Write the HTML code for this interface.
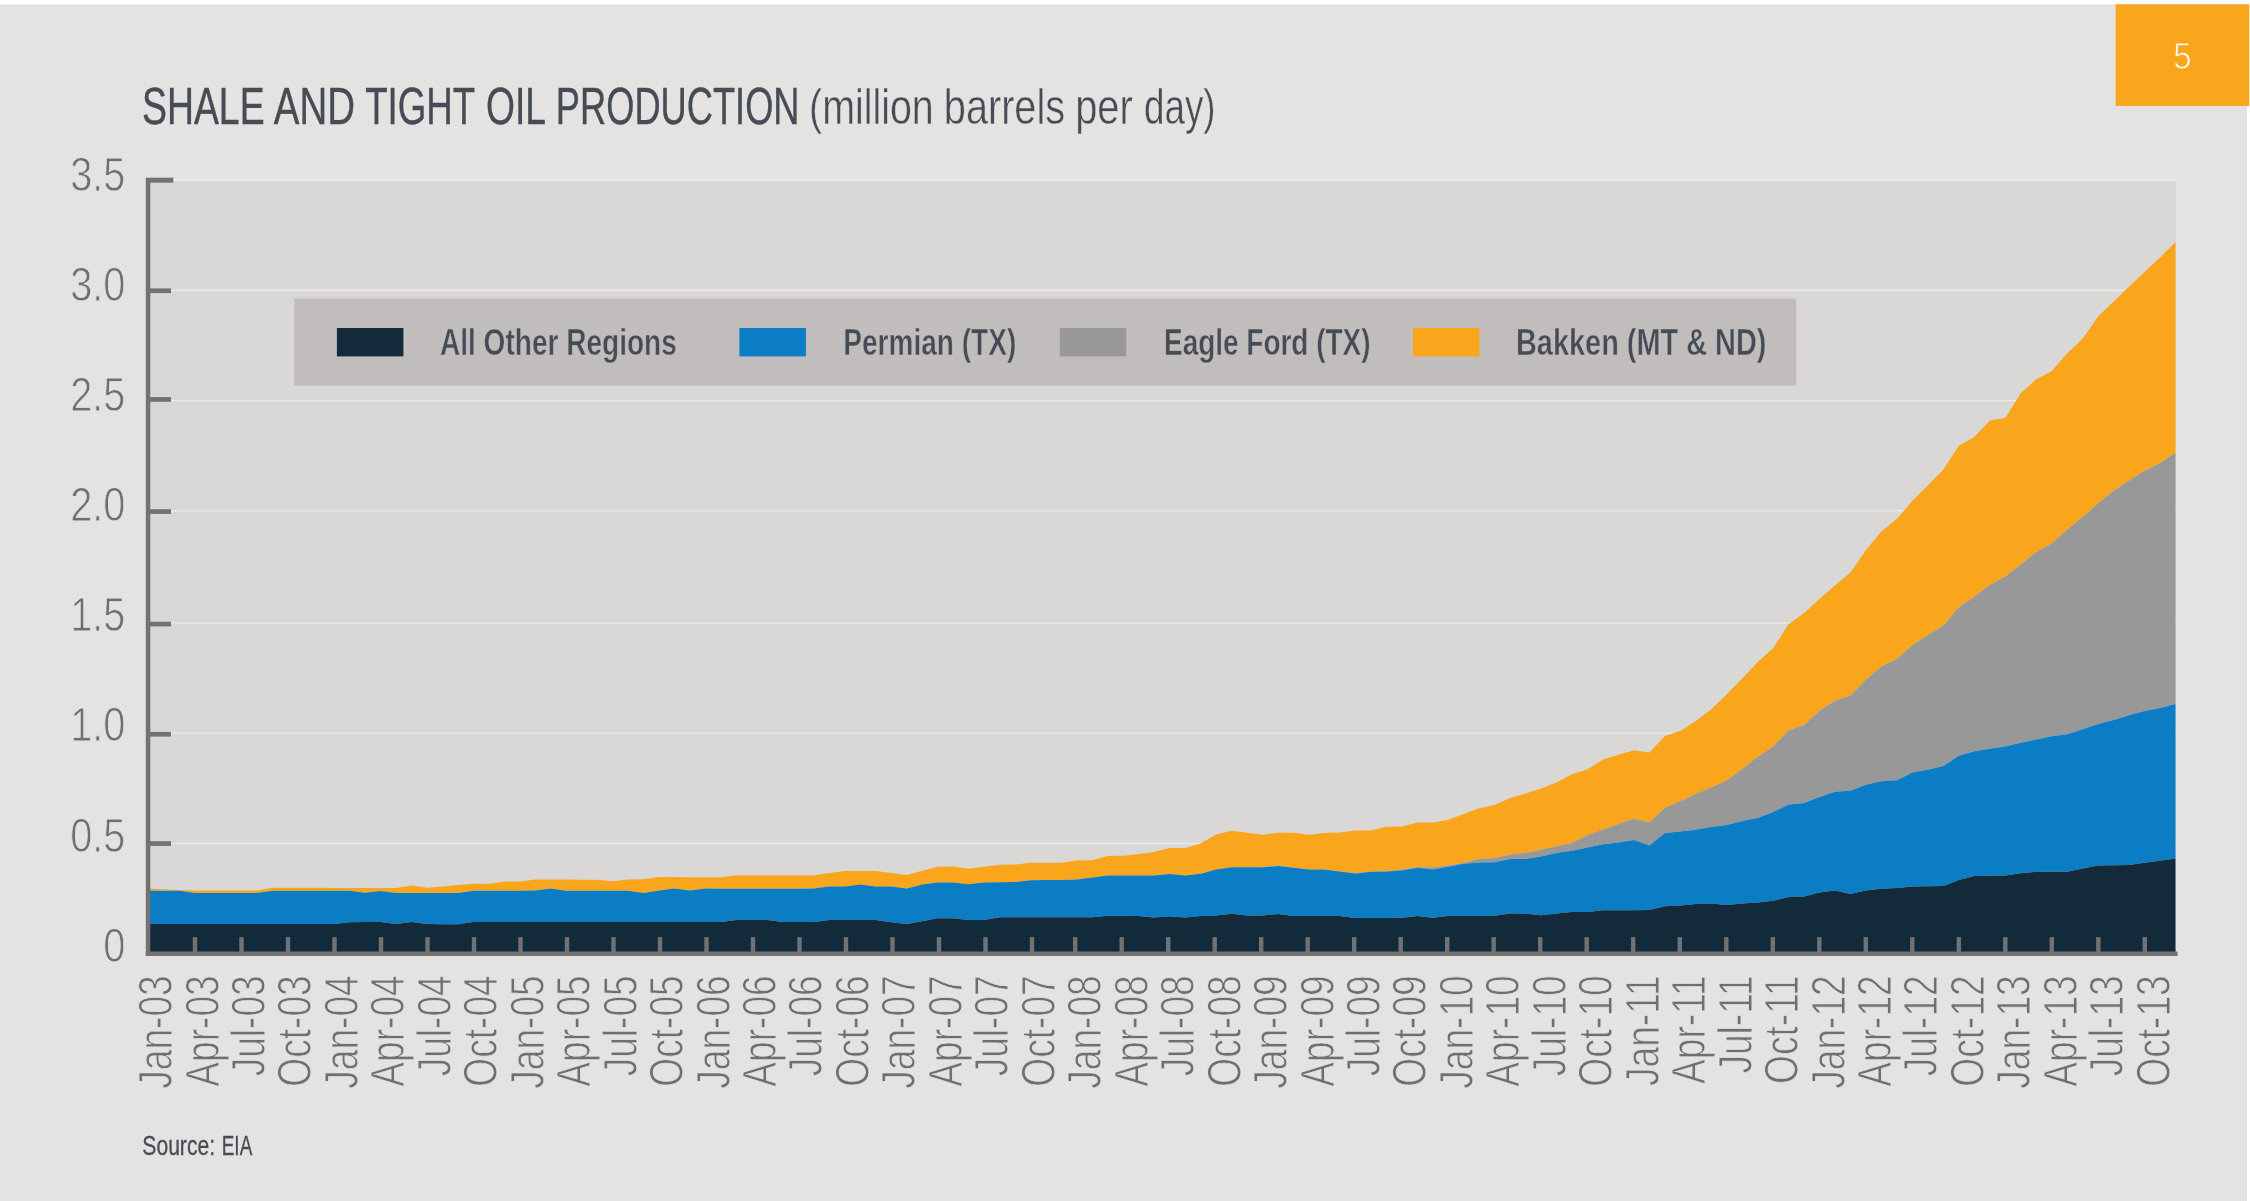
<!DOCTYPE html>
<html lang="en"><head><meta charset="utf-8"><title>Shale and Tight Oil Production</title>
<style>html,body{margin:0;padding:0;background:#fff;}svg{display:block;font-family:"Liberation Sans", sans-serif;will-change:transform;transform:translateZ(0);}</style></head><body>
<svg width="2250" height="1201" viewBox="0 0 2250 1201">
<rect x="0" y="0" width="2250" height="1201" fill="#ffffff"/>
<rect x="0" y="4.3" width="2247" height="1197" fill="#e4e3e1"/>
<rect x="2115.6" y="4.3" width="133.7" height="101.7" fill="#f9a61d"/>
<text transform="translate(2182.4,68.8) scale(0.9,1)" font-size="37.4" font-weight="400" fill="#ffffff" text-anchor="middle" stroke="#f9a61d" stroke-width="1.0">5</text>
<text transform="translate(0,124.05) scale(0.73,1)" font-size="50.9" font-weight="400" fill="#464c56" stroke="#464c56" stroke-width="0.4"><tspan x="194.61" textLength="167.81" lengthAdjust="spacingAndGlyphs">SHALE</tspan> <tspan x="375.08" textLength="111.15" lengthAdjust="spacingAndGlyphs">AND</tspan> <tspan x="500.27" textLength="150.72" lengthAdjust="spacingAndGlyphs">TIGHT</tspan> <tspan x="665.71" textLength="82.23" lengthAdjust="spacingAndGlyphs">OIL</tspan> <tspan x="761.47" textLength="333.76" lengthAdjust="spacingAndGlyphs">PRODUCTION</tspan></text>
<text transform="translate(0,124.0) scale(0.78,1)" font-size="50.3" font-weight="400" fill="#464c56" stroke="#e4e3e1" stroke-width="0.5"><tspan x="1037.25" textLength="159.77" lengthAdjust="spacingAndGlyphs">(million</tspan> <tspan x="1210.05" textLength="155.43" lengthAdjust="spacingAndGlyphs">barrels</tspan> <tspan x="1378.50" textLength="73.74" lengthAdjust="spacingAndGlyphs">per</tspan> <tspan x="1466.58" textLength="91.83" lengthAdjust="spacingAndGlyphs">day)</tspan></text>
<rect x="148.5" y="180" width="2027.5" height="773.5" fill="#d9d8d6"/>
<rect x="151" y="842.85" width="2025" height="1.3" fill="#edecea"/>
<rect x="151" y="732.65" width="2025" height="1.3" fill="#edecea"/>
<rect x="151" y="622.35" width="2025" height="1.3" fill="#edecea"/>
<rect x="151" y="510.15" width="2025" height="1.3" fill="#edecea"/>
<rect x="151" y="400.15" width="2025" height="1.3" fill="#edecea"/>
<rect x="151" y="289.65" width="2025" height="1.3" fill="#edecea"/>
<rect x="151" y="179.65" width="2025" height="1.3" fill="#edecea"/>
<path d="M148.5,888.4 L164.0,889.2 L179.4,889.9 L194.9,890.4 L210.4,890.4 L225.9,890.4 L241.3,890.4 L256.8,890.4 L272.3,887.7 L287.8,887.8 L303.2,887.8 L318.7,887.8 L334.2,887.9 L349.6,887.9 L365.1,887.9 L380.6,888.0 L396.1,888.0 L411.5,885.5 L427.0,887.8 L442.5,886.6 L458.0,885.1 L473.4,883.7 L488.9,883.7 L504.4,881.4 L519.9,881.4 L535.3,879.5 L550.8,879.5 L566.3,879.6 L581.7,879.7 L597.2,879.7 L612.7,881.3 L628.2,879.5 L643.6,879.3 L659.1,877.1 L674.6,877.1 L690.1,877.2 L705.5,877.3 L721.0,877.2 L736.5,875.3 L751.9,875.3 L767.4,875.3 L782.9,875.3 L798.4,875.3 L813.8,875.3 L829.3,872.9 L844.8,871.0 L860.3,870.9 L875.7,871.1 L891.2,873.1 L906.7,875.1 L922.2,870.7 L937.6,866.7 L953.1,866.6 L968.6,868.7 L984.0,866.7 L999.5,864.7 L1015.0,864.6 L1030.5,862.7 L1045.9,862.7 L1061.4,862.7 L1076.9,860.4 L1092.4,860.3 L1107.8,856.0 L1123.3,855.8 L1138.8,854.0 L1154.2,852.1 L1169.7,848.0 L1185.2,847.9 L1200.7,843.6 L1216.1,834.5 L1231.6,830.8 L1247.1,832.7 L1262.6,834.8 L1278.0,832.7 L1293.5,832.7 L1309.0,834.8 L1324.4,832.9 L1339.9,832.6 L1355.4,830.6 L1370.9,830.6 L1386.3,826.7 L1401.8,826.5 L1417.3,822.6 L1432.8,822.6 L1448.2,819.8 L1463.7,814.0 L1479.2,808.2 L1494.7,804.9 L1510.1,798.1 L1525.6,793.6 L1541.1,788.5 L1556.5,782.5 L1572.0,774.3 L1587.5,769.3 L1603.0,759.5 L1618.4,754.8 L1633.9,750.3 L1649.4,752.4 L1664.9,735.9 L1680.3,731.1 L1695.8,721.0 L1711.3,709.2 L1726.7,694.3 L1742.2,678.6 L1757.7,662.0 L1773.2,648.1 L1788.6,624.2 L1804.1,613.0 L1819.6,598.7 L1835.1,585.2 L1850.5,572.6 L1866.0,550.0 L1881.5,531.3 L1896.9,519.1 L1912.4,500.7 L1927.9,485.3 L1943.4,469.4 L1958.8,445.8 L1974.3,436.9 L1989.8,420.6 L2005.3,417.9 L2020.7,393.3 L2036.2,379.3 L2051.7,371.2 L2067.2,353.2 L2082.6,338.8 L2098.1,316.6 L2113.6,301.5 L2129.0,286.8 L2144.5,272.1 L2160.0,257.5 L2175.5,242.0 L2175.5,452.7 L2160.0,463.0 L2144.5,470.7 L2129.0,480.6 L2113.6,490.8 L2098.1,503.3 L2082.6,517.0 L2067.2,529.6 L2051.7,543.4 L2036.2,551.9 L2020.7,564.4 L2005.3,576.6 L1989.8,585.1 L1974.3,596.7 L1958.8,607.2 L1943.4,625.5 L1927.9,635.1 L1912.4,645.0 L1896.9,658.9 L1881.5,666.6 L1866.0,679.6 L1850.5,695.6 L1835.1,700.4 L1819.6,710.6 L1804.1,725.1 L1788.6,730.2 L1773.2,746.6 L1757.7,756.7 L1742.2,769.1 L1726.7,780.6 L1711.3,787.6 L1695.8,793.8 L1680.3,801.3 L1664.9,807.7 L1649.4,822.5 L1633.9,818.7 L1618.4,823.9 L1603.0,829.6 L1587.5,835.3 L1572.0,842.8 L1556.5,846.2 L1541.1,849.8 L1525.6,852.8 L1510.1,854.6 L1494.7,858.1 L1479.2,858.7 L1463.7,862.9 L1448.2,865.4 L1432.8,867.3 L1417.3,867.3 L1401.8,869.4 L1386.3,871.3 L1370.9,871.5 L1355.4,873.3 L1339.9,871.4 L1324.4,869.4 L1309.0,869.4 L1293.5,867.4 L1278.0,865.4 L1262.6,867.0 L1247.1,867.3 L1231.6,867.3 L1216.1,869.4 L1200.7,873.8 L1185.2,875.5 L1169.7,873.9 L1154.2,875.6 L1138.8,875.6 L1123.3,875.6 L1107.8,875.6 L1092.4,877.5 L1076.9,879.6 L1061.4,879.9 L1045.9,880.1 L1030.5,880.3 L1015.0,882.0 L999.5,882.3 L984.0,882.4 L968.6,884.2 L953.1,882.4 L937.6,882.4 L922.2,884.6 L906.7,888.5 L891.2,886.4 L875.7,886.4 L860.3,884.5 L844.8,886.4 L829.3,886.6 L813.8,888.6 L798.4,888.7 L782.9,888.7 L767.4,888.7 L751.9,888.7 L736.5,888.7 L721.0,888.7 L705.5,888.5 L690.1,890.6 L674.6,888.6 L659.1,890.6 L643.6,892.9 L628.2,890.7 L612.7,890.7 L597.2,890.7 L581.7,890.7 L566.3,890.7 L550.8,888.5 L535.3,890.6 L519.9,890.7 L504.4,890.7 L488.9,890.7 L473.4,890.7 L458.0,892.9 L442.5,892.9 L427.0,892.9 L411.5,892.9 L396.1,892.9 L380.6,891.0 L365.1,892.8 L349.6,890.7 L334.2,890.7 L318.7,890.7 L303.2,890.7 L287.8,890.7 L272.3,890.7 L256.8,892.9 L241.3,892.9 L225.9,892.9 L210.4,892.9 L194.9,892.9 L179.4,890.8 L164.0,890.7 L148.5,890.7Z" fill="#f9a61d"/>
<path d="M148.5,890.7 L164.0,890.7 L179.4,890.8 L194.9,892.9 L210.4,892.9 L225.9,892.9 L241.3,892.9 L256.8,892.9 L272.3,890.7 L287.8,890.7 L303.2,890.7 L318.7,890.7 L334.2,890.7 L349.6,890.7 L365.1,892.8 L380.6,891.0 L396.1,892.9 L411.5,892.9 L427.0,892.9 L442.5,892.9 L458.0,892.9 L473.4,890.7 L488.9,890.7 L504.4,890.7 L519.9,890.7 L535.3,890.6 L550.8,888.5 L566.3,890.7 L581.7,890.7 L597.2,890.7 L612.7,890.7 L628.2,890.7 L643.6,892.9 L659.1,890.6 L674.6,888.6 L690.1,890.6 L705.5,888.5 L721.0,888.7 L736.5,888.7 L751.9,888.7 L767.4,888.7 L782.9,888.7 L798.4,888.7 L813.8,888.6 L829.3,886.6 L844.8,886.4 L860.3,884.5 L875.7,886.4 L891.2,886.4 L906.7,888.5 L922.2,884.6 L937.6,882.4 L953.1,882.4 L968.6,884.2 L984.0,882.4 L999.5,882.3 L1015.0,882.0 L1030.5,880.3 L1045.9,880.1 L1061.4,879.9 L1076.9,879.6 L1092.4,877.5 L1107.8,875.6 L1123.3,875.6 L1138.8,875.6 L1154.2,875.6 L1169.7,873.9 L1185.2,875.5 L1200.7,873.8 L1216.1,869.4 L1231.6,867.3 L1247.1,867.3 L1262.6,867.0 L1278.0,865.4 L1293.5,867.4 L1309.0,869.4 L1324.4,869.4 L1339.9,871.4 L1355.4,873.3 L1370.9,871.5 L1386.3,871.3 L1401.8,869.4 L1417.3,867.3 L1432.8,867.3 L1448.2,865.4 L1463.7,862.9 L1479.2,858.7 L1494.7,858.1 L1510.1,854.6 L1525.6,852.8 L1541.1,849.8 L1556.5,846.2 L1572.0,842.8 L1587.5,835.3 L1603.0,829.6 L1618.4,823.9 L1633.9,818.7 L1649.4,822.5 L1664.9,807.7 L1680.3,801.3 L1695.8,793.8 L1711.3,787.6 L1726.7,780.6 L1742.2,769.1 L1757.7,756.7 L1773.2,746.6 L1788.6,730.2 L1804.1,725.1 L1819.6,710.6 L1835.1,700.4 L1850.5,695.6 L1866.0,679.6 L1881.5,666.6 L1896.9,658.9 L1912.4,645.0 L1927.9,635.1 L1943.4,625.5 L1958.8,607.2 L1974.3,596.7 L1989.8,585.1 L2005.3,576.6 L2020.7,564.4 L2036.2,551.9 L2051.7,543.4 L2067.2,529.6 L2082.6,517.0 L2098.1,503.3 L2113.6,490.8 L2129.0,480.6 L2144.5,470.7 L2160.0,463.0 L2175.5,452.7 L2175.5,704.1 L2160.0,708.1 L2144.5,711.0 L2129.0,715.3 L2113.6,719.9 L2098.1,723.9 L2082.6,729.3 L2067.2,734.2 L2051.7,736.2 L2036.2,739.6 L2020.7,742.7 L2005.3,746.6 L1989.8,748.8 L1974.3,751.2 L1958.8,755.8 L1943.4,766.0 L1927.9,769.7 L1912.4,772.6 L1896.9,780.3 L1881.5,781.2 L1866.0,784.8 L1850.5,790.8 L1835.1,791.8 L1819.6,797.1 L1804.1,802.9 L1788.6,804.6 L1773.2,812.1 L1757.7,818.0 L1742.2,820.9 L1726.7,825.0 L1711.3,827.0 L1695.8,829.8 L1680.3,831.5 L1664.9,833.1 L1649.4,845.4 L1633.9,840.1 L1618.4,842.6 L1603.0,844.3 L1587.5,847.6 L1572.0,850.7 L1556.5,852.9 L1541.1,856.5 L1525.6,858.9 L1510.1,859.0 L1494.7,862.2 L1479.2,862.4 L1463.7,863.7 L1448.2,866.8 L1432.8,869.5 L1417.3,867.7 L1401.8,870.5 L1386.3,871.6 L1370.9,871.7 L1355.4,873.4 L1339.9,871.5 L1324.4,869.5 L1309.0,869.5 L1293.5,867.7 L1278.0,866.0 L1262.6,867.3 L1247.1,867.3 L1231.6,867.3 L1216.1,869.4 L1200.7,873.8 L1185.2,875.5 L1169.7,873.9 L1154.2,875.6 L1138.8,875.6 L1123.3,875.6 L1107.8,875.6 L1092.4,877.5 L1076.9,879.6 L1061.4,879.9 L1045.9,880.1 L1030.5,880.3 L1015.0,882.0 L999.5,882.3 L984.0,882.4 L968.6,884.2 L953.1,882.4 L937.6,882.4 L922.2,884.6 L906.7,888.5 L891.2,886.4 L875.7,886.4 L860.3,884.5 L844.8,886.4 L829.3,886.6 L813.8,888.6 L798.4,888.7 L782.9,888.7 L767.4,888.7 L751.9,888.7 L736.5,888.7 L721.0,888.7 L705.5,888.5 L690.1,890.6 L674.6,888.6 L659.1,890.6 L643.6,892.9 L628.2,890.7 L612.7,890.7 L597.2,890.7 L581.7,890.7 L566.3,890.7 L550.8,888.5 L535.3,890.6 L519.9,890.7 L504.4,890.7 L488.9,890.7 L473.4,890.7 L458.0,892.9 L442.5,892.9 L427.0,892.9 L411.5,892.9 L396.1,892.9 L380.6,891.0 L365.1,892.8 L349.6,890.7 L334.2,890.7 L318.7,890.7 L303.2,890.7 L287.8,890.7 L272.3,890.7 L256.8,892.9 L241.3,892.9 L225.9,892.9 L210.4,892.9 L194.9,892.9 L179.4,890.8 L164.0,890.7 L148.5,890.7Z" fill="#989898"/>
<path d="M148.5,890.7 L164.0,890.7 L179.4,890.8 L194.9,892.9 L210.4,892.9 L225.9,892.9 L241.3,892.9 L256.8,892.9 L272.3,890.7 L287.8,890.7 L303.2,890.7 L318.7,890.7 L334.2,890.7 L349.6,890.7 L365.1,892.8 L380.6,891.0 L396.1,892.9 L411.5,892.9 L427.0,892.9 L442.5,892.9 L458.0,892.9 L473.4,890.7 L488.9,890.7 L504.4,890.7 L519.9,890.7 L535.3,890.6 L550.8,888.5 L566.3,890.7 L581.7,890.7 L597.2,890.7 L612.7,890.7 L628.2,890.7 L643.6,892.9 L659.1,890.6 L674.6,888.6 L690.1,890.6 L705.5,888.5 L721.0,888.7 L736.5,888.7 L751.9,888.7 L767.4,888.7 L782.9,888.7 L798.4,888.7 L813.8,888.6 L829.3,886.6 L844.8,886.4 L860.3,884.5 L875.7,886.4 L891.2,886.4 L906.7,888.5 L922.2,884.6 L937.6,882.4 L953.1,882.4 L968.6,884.2 L984.0,882.4 L999.5,882.3 L1015.0,882.0 L1030.5,880.3 L1045.9,880.1 L1061.4,879.9 L1076.9,879.6 L1092.4,877.5 L1107.8,875.6 L1123.3,875.6 L1138.8,875.6 L1154.2,875.6 L1169.7,873.9 L1185.2,875.5 L1200.7,873.8 L1216.1,869.4 L1231.6,867.3 L1247.1,867.3 L1262.6,867.3 L1278.0,866.0 L1293.5,867.7 L1309.0,869.5 L1324.4,869.5 L1339.9,871.5 L1355.4,873.4 L1370.9,871.7 L1386.3,871.6 L1401.8,870.5 L1417.3,867.7 L1432.8,869.5 L1448.2,866.8 L1463.7,863.7 L1479.2,862.4 L1494.7,862.2 L1510.1,859.0 L1525.6,858.9 L1541.1,856.5 L1556.5,852.9 L1572.0,850.7 L1587.5,847.6 L1603.0,844.3 L1618.4,842.6 L1633.9,840.1 L1649.4,845.4 L1664.9,833.1 L1680.3,831.5 L1695.8,829.8 L1711.3,827.0 L1726.7,825.0 L1742.2,820.9 L1757.7,818.0 L1773.2,812.1 L1788.6,804.6 L1804.1,802.9 L1819.6,797.1 L1835.1,791.8 L1850.5,790.8 L1866.0,784.8 L1881.5,781.2 L1896.9,780.3 L1912.4,772.6 L1927.9,769.7 L1943.4,766.0 L1958.8,755.8 L1974.3,751.2 L1989.8,748.8 L2005.3,746.6 L2020.7,742.7 L2036.2,739.6 L2051.7,736.2 L2067.2,734.2 L2082.6,729.3 L2098.1,723.9 L2113.6,719.9 L2129.0,715.3 L2144.5,711.0 L2160.0,708.1 L2175.5,704.1 L2175.5,858.6 L2160.0,860.8 L2144.5,862.7 L2129.0,865.0 L2113.6,865.2 L2098.1,865.6 L2082.6,868.6 L2067.2,871.7 L2051.7,871.7 L2036.2,871.8 L2020.7,873.2 L2005.3,875.4 L1989.8,875.7 L1974.3,876.1 L1958.8,880.0 L1943.4,886.1 L1927.9,886.3 L1912.4,886.5 L1896.9,888.0 L1881.5,888.7 L1866.0,890.5 L1850.5,894.1 L1835.1,890.6 L1819.6,892.4 L1804.1,896.4 L1788.6,897.1 L1773.2,900.7 L1757.7,902.5 L1742.2,903.4 L1726.7,905.1 L1711.3,903.5 L1695.8,903.9 L1680.3,905.6 L1664.9,906.2 L1649.4,910.0 L1633.9,910.2 L1618.4,910.2 L1603.0,910.2 L1587.5,911.9 L1572.0,912.0 L1556.5,913.6 L1541.1,915.3 L1525.6,913.7 L1510.1,913.6 L1494.7,915.8 L1479.2,915.9 L1463.7,915.9 L1448.2,916.0 L1432.8,917.7 L1417.3,915.9 L1401.8,917.8 L1386.3,917.9 L1370.9,917.9 L1355.4,917.9 L1339.9,916.1 L1324.4,915.9 L1309.0,915.9 L1293.5,915.9 L1278.0,913.9 L1262.6,915.5 L1247.1,915.6 L1231.6,913.8 L1216.1,915.5 L1200.7,916.0 L1185.2,917.6 L1169.7,916.2 L1154.2,917.6 L1138.8,915.9 L1123.3,915.7 L1107.8,915.8 L1092.4,917.3 L1076.9,917.3 L1061.4,917.3 L1045.9,917.3 L1030.5,917.3 L1015.0,917.3 L999.5,917.3 L984.0,919.9 L968.6,920.0 L953.1,918.3 L937.6,918.3 L922.2,921.2 L906.7,924.1 L891.2,922.2 L875.7,920.1 L860.3,920.0 L844.8,920.0 L829.3,920.0 L813.8,922.1 L798.4,922.1 L782.9,922.1 L767.4,920.1 L751.9,920.0 L736.5,920.0 L721.0,922.0 L705.5,922.1 L690.1,922.1 L674.6,922.1 L659.1,922.1 L643.6,922.1 L628.2,922.1 L612.7,922.1 L597.2,922.1 L581.7,922.1 L566.3,922.1 L550.8,922.1 L535.3,922.1 L519.9,922.1 L504.4,922.1 L488.9,922.1 L473.4,922.1 L458.0,924.3 L442.5,924.3 L427.0,924.1 L411.5,922.1 L396.1,924.0 L380.6,922.1 L365.1,922.0 L349.6,922.3 L334.2,923.9 L318.7,924.0 L303.2,924.0 L287.8,924.0 L272.3,924.0 L256.8,924.0 L241.3,924.0 L225.9,924.0 L210.4,924.0 L194.9,924.0 L179.4,924.0 L164.0,924.0 L148.5,924.0Z" fill="#0a7dc5"/>
<path d="M148.5,924.0 L164.0,924.0 L179.4,924.0 L194.9,924.0 L210.4,924.0 L225.9,924.0 L241.3,924.0 L256.8,924.0 L272.3,924.0 L287.8,924.0 L303.2,924.0 L318.7,924.0 L334.2,923.9 L349.6,922.3 L365.1,922.0 L380.6,922.1 L396.1,924.0 L411.5,922.1 L427.0,924.1 L442.5,924.3 L458.0,924.3 L473.4,922.1 L488.9,922.1 L504.4,922.1 L519.9,922.1 L535.3,922.1 L550.8,922.1 L566.3,922.1 L581.7,922.1 L597.2,922.1 L612.7,922.1 L628.2,922.1 L643.6,922.1 L659.1,922.1 L674.6,922.1 L690.1,922.1 L705.5,922.1 L721.0,922.0 L736.5,920.0 L751.9,920.0 L767.4,920.1 L782.9,922.1 L798.4,922.1 L813.8,922.1 L829.3,920.0 L844.8,920.0 L860.3,920.0 L875.7,920.1 L891.2,922.2 L906.7,924.1 L922.2,921.2 L937.6,918.3 L953.1,918.3 L968.6,920.0 L984.0,919.9 L999.5,917.3 L1015.0,917.3 L1030.5,917.3 L1045.9,917.3 L1061.4,917.3 L1076.9,917.3 L1092.4,917.3 L1107.8,915.8 L1123.3,915.7 L1138.8,915.9 L1154.2,917.6 L1169.7,916.2 L1185.2,917.6 L1200.7,916.0 L1216.1,915.5 L1231.6,913.8 L1247.1,915.6 L1262.6,915.5 L1278.0,913.9 L1293.5,915.9 L1309.0,915.9 L1324.4,915.9 L1339.9,916.1 L1355.4,917.9 L1370.9,917.9 L1386.3,917.9 L1401.8,917.8 L1417.3,915.9 L1432.8,917.7 L1448.2,916.0 L1463.7,915.9 L1479.2,915.9 L1494.7,915.8 L1510.1,913.6 L1525.6,913.7 L1541.1,915.3 L1556.5,913.6 L1572.0,912.0 L1587.5,911.9 L1603.0,910.2 L1618.4,910.2 L1633.9,910.2 L1649.4,910.0 L1664.9,906.2 L1680.3,905.6 L1695.8,903.9 L1711.3,903.5 L1726.7,905.1 L1742.2,903.4 L1757.7,902.5 L1773.2,900.7 L1788.6,897.1 L1804.1,896.4 L1819.6,892.4 L1835.1,890.6 L1850.5,894.1 L1866.0,890.5 L1881.5,888.7 L1896.9,888.0 L1912.4,886.5 L1927.9,886.3 L1943.4,886.1 L1958.8,880.0 L1974.3,876.1 L1989.8,875.7 L2005.3,875.4 L2020.7,873.2 L2036.2,871.8 L2051.7,871.7 L2067.2,871.7 L2082.6,868.6 L2098.1,865.6 L2113.6,865.2 L2129.0,865.0 L2144.5,862.7 L2160.0,860.8 L2175.5,858.6 L2175.5,953.5 L148.5,953.5Z" fill="#132a3a"/>
<rect x="145.8" y="177.7" width="4.5" height="778.3" fill="#727272"/>
<rect x="145.8" y="951.5" width="2031.8" height="4.5" fill="#727272"/>
<rect x="150" y="841.2" width="21.0" height="4.7" fill="#727272"/>
<rect x="150" y="731.9" width="21.0" height="4.7" fill="#727272"/>
<rect x="150" y="621.7" width="21.0" height="4.7" fill="#727272"/>
<rect x="150" y="509.2" width="21.0" height="4.7" fill="#727272"/>
<rect x="150" y="397.1" width="21.0" height="4.7" fill="#727272"/>
<rect x="150" y="288.4" width="21.0" height="4.7" fill="#727272"/>
<rect x="150" y="177.7" width="23.3" height="5.0" fill="#727272"/>
<rect x="192.8" y="937.1" width="4.4" height="16" fill="#727272"/>
<rect x="239.3" y="937.1" width="4.4" height="16" fill="#727272"/>
<rect x="285.8" y="937.1" width="4.4" height="16" fill="#727272"/>
<rect x="332.3" y="937.1" width="4.4" height="16" fill="#727272"/>
<rect x="378.8" y="937.1" width="4.4" height="16" fill="#727272"/>
<rect x="425.3" y="937.1" width="4.4" height="16" fill="#727272"/>
<rect x="471.8" y="937.1" width="4.4" height="16" fill="#727272"/>
<rect x="518.3" y="937.1" width="4.4" height="16" fill="#727272"/>
<rect x="564.8" y="937.1" width="4.4" height="16" fill="#727272"/>
<rect x="611.3" y="937.1" width="4.4" height="16" fill="#727272"/>
<rect x="657.8" y="937.1" width="4.4" height="16" fill="#727272"/>
<rect x="704.3" y="937.1" width="4.4" height="16" fill="#727272"/>
<rect x="750.8" y="937.1" width="4.4" height="16" fill="#727272"/>
<rect x="797.3" y="937.1" width="4.4" height="16" fill="#727272"/>
<rect x="843.8" y="937.1" width="4.4" height="16" fill="#727272"/>
<rect x="890.3" y="937.1" width="4.4" height="16" fill="#727272"/>
<rect x="936.8" y="937.1" width="4.4" height="16" fill="#727272"/>
<rect x="983.3" y="937.1" width="4.4" height="16" fill="#727272"/>
<rect x="1029.8" y="937.1" width="4.4" height="16" fill="#727272"/>
<rect x="1073.0" y="937.1" width="4.4" height="16" fill="#727272"/>
<rect x="1119.5" y="937.1" width="4.4" height="16" fill="#727272"/>
<rect x="1166.0" y="937.1" width="4.4" height="16" fill="#727272"/>
<rect x="1212.5" y="937.1" width="4.4" height="16" fill="#727272"/>
<rect x="1259.0" y="937.1" width="4.4" height="16" fill="#727272"/>
<rect x="1305.5" y="937.1" width="4.4" height="16" fill="#727272"/>
<rect x="1352.0" y="937.1" width="4.4" height="16" fill="#727272"/>
<rect x="1398.5" y="937.1" width="4.4" height="16" fill="#727272"/>
<rect x="1445.0" y="937.1" width="4.4" height="16" fill="#727272"/>
<rect x="1491.5" y="937.1" width="4.4" height="16" fill="#727272"/>
<rect x="1538.0" y="937.1" width="4.4" height="16" fill="#727272"/>
<rect x="1584.5" y="937.1" width="4.4" height="16" fill="#727272"/>
<rect x="1631.0" y="937.1" width="4.4" height="16" fill="#727272"/>
<rect x="1677.6" y="937.1" width="4.4" height="16" fill="#727272"/>
<rect x="1724.1" y="937.1" width="4.4" height="16" fill="#727272"/>
<rect x="1770.6" y="937.1" width="4.4" height="16" fill="#727272"/>
<rect x="1817.1" y="937.1" width="4.4" height="16" fill="#727272"/>
<rect x="1863.6" y="937.1" width="4.4" height="16" fill="#727272"/>
<rect x="1910.1" y="937.1" width="4.4" height="16" fill="#727272"/>
<rect x="1956.6" y="937.1" width="4.4" height="16" fill="#727272"/>
<rect x="2003.1" y="937.1" width="4.4" height="16" fill="#727272"/>
<rect x="2049.6" y="937.1" width="4.4" height="16" fill="#727272"/>
<rect x="2096.1" y="937.1" width="4.4" height="16" fill="#727272"/>
<rect x="2142.6" y="937.1" width="4.4" height="16" fill="#727272"/>
<text transform="translate(125.4,961.7) scale(0.842,1)" font-size="47.2" font-weight="400" fill="#6f6f6f" text-anchor="end" stroke="#e4e3e1" stroke-width="0.9">0</text>
<text transform="translate(125.4,851.5) scale(0.842,1)" font-size="47.2" font-weight="400" fill="#6f6f6f" text-anchor="end" stroke="#e4e3e1" stroke-width="0.9">0.5</text>
<text transform="translate(125.4,741.4) scale(0.842,1)" font-size="47.2" font-weight="400" fill="#6f6f6f" text-anchor="end" stroke="#e4e3e1" stroke-width="0.9">1.0</text>
<text transform="translate(125.4,631.2) scale(0.842,1)" font-size="47.2" font-weight="400" fill="#6f6f6f" text-anchor="end" stroke="#e4e3e1" stroke-width="0.9">1.5</text>
<text transform="translate(125.4,521.1) scale(0.842,1)" font-size="47.2" font-weight="400" fill="#6f6f6f" text-anchor="end" stroke="#e4e3e1" stroke-width="0.9">2.0</text>
<text transform="translate(125.4,410.9) scale(0.842,1)" font-size="47.2" font-weight="400" fill="#6f6f6f" text-anchor="end" stroke="#e4e3e1" stroke-width="0.9">2.5</text>
<text transform="translate(125.4,300.8) scale(0.842,1)" font-size="47.2" font-weight="400" fill="#6f6f6f" text-anchor="end" stroke="#e4e3e1" stroke-width="0.9">3.0</text>
<text transform="translate(125.4,190.7) scale(0.842,1)" font-size="47.2" font-weight="400" fill="#6f6f6f" text-anchor="end" stroke="#e4e3e1" stroke-width="0.9">3.5</text>
<text transform="translate(172.0,975.3) rotate(-90) scale(0.77,1)" font-size="48.2" font-weight="400" fill="#6f6f6f" text-anchor="end" stroke="#e4e3e1" stroke-width="0.9">Jan-03</text>
<text transform="translate(218.5,975.3) rotate(-90) scale(0.77,1)" font-size="48.2" font-weight="400" fill="#6f6f6f" text-anchor="end" stroke="#e4e3e1" stroke-width="0.9">Apr-03</text>
<text transform="translate(264.9,975.3) rotate(-90) scale(0.77,1)" font-size="48.2" font-weight="400" fill="#6f6f6f" text-anchor="end" stroke="#e4e3e1" stroke-width="0.9">Jul-03</text>
<text transform="translate(311.4,975.3) rotate(-90) scale(0.77,1)" font-size="48.2" font-weight="400" fill="#6f6f6f" text-anchor="end" stroke="#e4e3e1" stroke-width="0.9">Oct-03</text>
<text transform="translate(357.8,975.3) rotate(-90) scale(0.77,1)" font-size="48.2" font-weight="400" fill="#6f6f6f" text-anchor="end" stroke="#e4e3e1" stroke-width="0.9">Jan-04</text>
<text transform="translate(404.3,975.3) rotate(-90) scale(0.77,1)" font-size="48.2" font-weight="400" fill="#6f6f6f" text-anchor="end" stroke="#e4e3e1" stroke-width="0.9">Apr-04</text>
<text transform="translate(450.7,975.3) rotate(-90) scale(0.77,1)" font-size="48.2" font-weight="400" fill="#6f6f6f" text-anchor="end" stroke="#e4e3e1" stroke-width="0.9">Jul-04</text>
<text transform="translate(497.2,975.3) rotate(-90) scale(0.77,1)" font-size="48.2" font-weight="400" fill="#6f6f6f" text-anchor="end" stroke="#e4e3e1" stroke-width="0.9">Oct-04</text>
<text transform="translate(543.7,975.3) rotate(-90) scale(0.77,1)" font-size="48.2" font-weight="400" fill="#6f6f6f" text-anchor="end" stroke="#e4e3e1" stroke-width="0.9">Jan-05</text>
<text transform="translate(590.1,975.3) rotate(-90) scale(0.77,1)" font-size="48.2" font-weight="400" fill="#6f6f6f" text-anchor="end" stroke="#e4e3e1" stroke-width="0.9">Apr-05</text>
<text transform="translate(636.6,975.3) rotate(-90) scale(0.77,1)" font-size="48.2" font-weight="400" fill="#6f6f6f" text-anchor="end" stroke="#e4e3e1" stroke-width="0.9">Jul-05</text>
<text transform="translate(683.0,975.3) rotate(-90) scale(0.77,1)" font-size="48.2" font-weight="400" fill="#6f6f6f" text-anchor="end" stroke="#e4e3e1" stroke-width="0.9">Oct-05</text>
<text transform="translate(729.5,975.3) rotate(-90) scale(0.77,1)" font-size="48.2" font-weight="400" fill="#6f6f6f" text-anchor="end" stroke="#e4e3e1" stroke-width="0.9">Jan-06</text>
<text transform="translate(776.0,975.3) rotate(-90) scale(0.77,1)" font-size="48.2" font-weight="400" fill="#6f6f6f" text-anchor="end" stroke="#e4e3e1" stroke-width="0.9">Apr-06</text>
<text transform="translate(822.4,975.3) rotate(-90) scale(0.77,1)" font-size="48.2" font-weight="400" fill="#6f6f6f" text-anchor="end" stroke="#e4e3e1" stroke-width="0.9">Jul-06</text>
<text transform="translate(868.9,975.3) rotate(-90) scale(0.77,1)" font-size="48.2" font-weight="400" fill="#6f6f6f" text-anchor="end" stroke="#e4e3e1" stroke-width="0.9">Oct-06</text>
<text transform="translate(915.3,975.3) rotate(-90) scale(0.77,1)" font-size="48.2" font-weight="400" fill="#6f6f6f" text-anchor="end" stroke="#e4e3e1" stroke-width="0.9">Jan-07</text>
<text transform="translate(961.8,975.3) rotate(-90) scale(0.77,1)" font-size="48.2" font-weight="400" fill="#6f6f6f" text-anchor="end" stroke="#e4e3e1" stroke-width="0.9">Apr-07</text>
<text transform="translate(1008.2,975.3) rotate(-90) scale(0.77,1)" font-size="48.2" font-weight="400" fill="#6f6f6f" text-anchor="end" stroke="#e4e3e1" stroke-width="0.9">Jul-07</text>
<text transform="translate(1054.7,975.3) rotate(-90) scale(0.77,1)" font-size="48.2" font-weight="400" fill="#6f6f6f" text-anchor="end" stroke="#e4e3e1" stroke-width="0.9">Oct-07</text>
<text transform="translate(1101.2,975.3) rotate(-90) scale(0.77,1)" font-size="48.2" font-weight="400" fill="#6f6f6f" text-anchor="end" stroke="#e4e3e1" stroke-width="0.9">Jan-08</text>
<text transform="translate(1147.6,975.3) rotate(-90) scale(0.77,1)" font-size="48.2" font-weight="400" fill="#6f6f6f" text-anchor="end" stroke="#e4e3e1" stroke-width="0.9">Apr-08</text>
<text transform="translate(1194.1,975.3) rotate(-90) scale(0.77,1)" font-size="48.2" font-weight="400" fill="#6f6f6f" text-anchor="end" stroke="#e4e3e1" stroke-width="0.9">Jul-08</text>
<text transform="translate(1240.5,975.3) rotate(-90) scale(0.77,1)" font-size="48.2" font-weight="400" fill="#6f6f6f" text-anchor="end" stroke="#e4e3e1" stroke-width="0.9">Oct-08</text>
<text transform="translate(1287.0,975.3) rotate(-90) scale(0.77,1)" font-size="48.2" font-weight="400" fill="#6f6f6f" text-anchor="end" stroke="#e4e3e1" stroke-width="0.9">Jan-09</text>
<text transform="translate(1333.5,975.3) rotate(-90) scale(0.77,1)" font-size="48.2" font-weight="400" fill="#6f6f6f" text-anchor="end" stroke="#e4e3e1" stroke-width="0.9">Apr-09</text>
<text transform="translate(1379.9,975.3) rotate(-90) scale(0.77,1)" font-size="48.2" font-weight="400" fill="#6f6f6f" text-anchor="end" stroke="#e4e3e1" stroke-width="0.9">Jul-09</text>
<text transform="translate(1426.4,975.3) rotate(-90) scale(0.77,1)" font-size="48.2" font-weight="400" fill="#6f6f6f" text-anchor="end" stroke="#e4e3e1" stroke-width="0.9">Oct-09</text>
<text transform="translate(1472.8,975.3) rotate(-90) scale(0.77,1)" font-size="48.2" font-weight="400" fill="#6f6f6f" text-anchor="end" stroke="#e4e3e1" stroke-width="0.9">Jan-10</text>
<text transform="translate(1519.3,975.3) rotate(-90) scale(0.77,1)" font-size="48.2" font-weight="400" fill="#6f6f6f" text-anchor="end" stroke="#e4e3e1" stroke-width="0.9">Apr-10</text>
<text transform="translate(1565.7,975.3) rotate(-90) scale(0.77,1)" font-size="48.2" font-weight="400" fill="#6f6f6f" text-anchor="end" stroke="#e4e3e1" stroke-width="0.9">Jul-10</text>
<text transform="translate(1612.2,975.3) rotate(-90) scale(0.77,1)" font-size="48.2" font-weight="400" fill="#6f6f6f" text-anchor="end" stroke="#e4e3e1" stroke-width="0.9">Oct-10</text>
<text transform="translate(1658.7,975.3) rotate(-90) scale(0.77,1)" font-size="48.2" font-weight="400" fill="#6f6f6f" text-anchor="end" stroke="#e4e3e1" stroke-width="0.9">Jan-11</text>
<text transform="translate(1705.1,975.3) rotate(-90) scale(0.77,1)" font-size="48.2" font-weight="400" fill="#6f6f6f" text-anchor="end" stroke="#e4e3e1" stroke-width="0.9">Apr-11</text>
<text transform="translate(1751.6,975.3) rotate(-90) scale(0.77,1)" font-size="48.2" font-weight="400" fill="#6f6f6f" text-anchor="end" stroke="#e4e3e1" stroke-width="0.9">Jul-11</text>
<text transform="translate(1798.0,975.3) rotate(-90) scale(0.77,1)" font-size="48.2" font-weight="400" fill="#6f6f6f" text-anchor="end" stroke="#e4e3e1" stroke-width="0.9">Oct-11</text>
<text transform="translate(1844.5,975.3) rotate(-90) scale(0.77,1)" font-size="48.2" font-weight="400" fill="#6f6f6f" text-anchor="end" stroke="#e4e3e1" stroke-width="0.9">Jan-12</text>
<text transform="translate(1890.9,975.3) rotate(-90) scale(0.77,1)" font-size="48.2" font-weight="400" fill="#6f6f6f" text-anchor="end" stroke="#e4e3e1" stroke-width="0.9">Apr-12</text>
<text transform="translate(1937.4,975.3) rotate(-90) scale(0.77,1)" font-size="48.2" font-weight="400" fill="#6f6f6f" text-anchor="end" stroke="#e4e3e1" stroke-width="0.9">Jul-12</text>
<text transform="translate(1983.9,975.3) rotate(-90) scale(0.77,1)" font-size="48.2" font-weight="400" fill="#6f6f6f" text-anchor="end" stroke="#e4e3e1" stroke-width="0.9">Oct-12</text>
<text transform="translate(2030.3,975.3) rotate(-90) scale(0.77,1)" font-size="48.2" font-weight="400" fill="#6f6f6f" text-anchor="end" stroke="#e4e3e1" stroke-width="0.9">Jan-13</text>
<text transform="translate(2076.8,975.3) rotate(-90) scale(0.77,1)" font-size="48.2" font-weight="400" fill="#6f6f6f" text-anchor="end" stroke="#e4e3e1" stroke-width="0.9">Apr-13</text>
<text transform="translate(2123.2,975.3) rotate(-90) scale(0.77,1)" font-size="48.2" font-weight="400" fill="#6f6f6f" text-anchor="end" stroke="#e4e3e1" stroke-width="0.9">Jul-13</text>
<text transform="translate(2169.7,975.3) rotate(-90) scale(0.77,1)" font-size="48.2" font-weight="400" fill="#6f6f6f" text-anchor="end" stroke="#e4e3e1" stroke-width="0.9">Oct-13</text>
<rect x="294.2" y="298.5" width="1502" height="87.1" fill="#c1bdbc"/>
<rect x="336.9" y="328" width="66.5" height="28.4" fill="#132a3a"/>
<text transform="translate(440.0,355.2) scale(0.7599,1)" font-size="36.9" font-weight="700" fill="#464c56" text-anchor="start" stroke="#c1bdbc" stroke-width="0.5">All Other Regions</text>
<rect x="739.4" y="328" width="66.5" height="28.4" fill="#0a7dc5"/>
<text transform="translate(843.3,355.2) scale(0.7599,1)" font-size="36.9" font-weight="700" fill="#464c56" text-anchor="start" stroke="#c1bdbc" stroke-width="0.5">Permian (TX)</text>
<rect x="1059.8" y="328" width="66.5" height="28.4" fill="#989898"/>
<text transform="translate(1164.0,355.2) scale(0.7579,1)" font-size="36.9" font-weight="700" fill="#464c56" text-anchor="start" stroke="#c1bdbc" stroke-width="0.5">Eagle Ford (TX)</text>
<rect x="1412.9" y="328" width="66.5" height="28.4" fill="#f9a61d"/>
<text transform="translate(1516.0,355.2) scale(0.7834,1)" font-size="36.9" font-weight="700" fill="#464c56" text-anchor="start" stroke="#c1bdbc" stroke-width="0.5">Bakken (MT &amp; ND)</text>
<text transform="translate(0,1154.9) scale(0.76,1)" font-size="27.5" font-weight="400" fill="#464c56" stroke="#464c56" stroke-width="0.3"><tspan x="187.29" textLength="95.65" lengthAdjust="spacingAndGlyphs">Source:</tspan> <tspan x="291.78" textLength="40.13" lengthAdjust="spacingAndGlyphs">EIA</tspan></text>
</svg></body></html>
